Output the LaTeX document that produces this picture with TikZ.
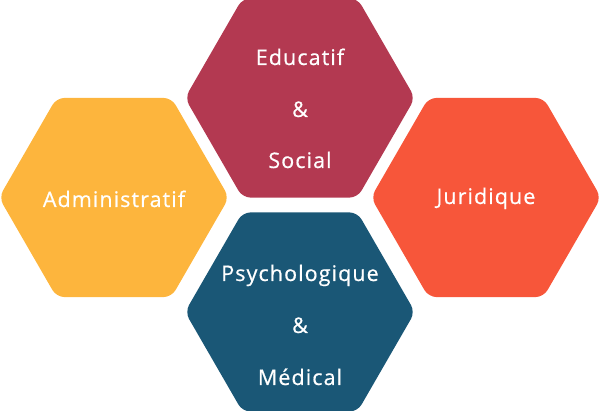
\documentclass[tikz,border=0pt]{standalone}
\usepackage{fontspec}
\newfontfamily\hexfont{Open Sans}[LetterSpace=5,FakeBold=0.6]
\usetikzlibrary{shapes.geometric}
\definecolor{HXcrimson}{HTML}{B33951}
\definecolor{HXyellow}{HTML}{FDB53D}
\definecolor{HXorange}{HTML}{F7563A}
\definecolor{HXnavy}{HTML}{1A5776}

\begin{document}
\begin{tikzpicture}[
  x=1pt,y=-1pt,
  hex/.style={regular polygon,regular polygon sides=6,minimum size=230pt,
    inner sep=0pt,rounded corners=8pt,draw=none},
  caption/.style={anchor=base,text=white,inner sep=0pt,
    font=\hexfont\fontsize{21.5}{24}\selectfont}
]
\useasboundingbox (0,0) rectangle (600,411);

% Four cells: one on top, one at each side, one below.
\node[hex,fill=HXcrimson] (educ) at (300,98) {};
\node[hex,fill=HXyellow] (admin) at (114,197.5) {};
\node[hex,fill=HXorange] (juri) at (486,197.5) {};
\node[hex,fill=HXnavy] (psy) at (300,312) {};

\node[caption] (educone) at (300,65) {Educatif};
\node[caption] (educand) at (300,117) {\&};
\node[caption] (eductwo) at (300,168) {Social};

\node[caption] (admintext) at (114,207) {Administratif};
\node[caption] (juritext) at (486,204) {Juridique};

\node[caption] (psyone) at (300,281) {Psychologique};
\node[caption] (psyand) at (300,333) {\&};
\node[caption] (psytwo) at (300,385) {Médical};

\end{tikzpicture}
\end{document}
